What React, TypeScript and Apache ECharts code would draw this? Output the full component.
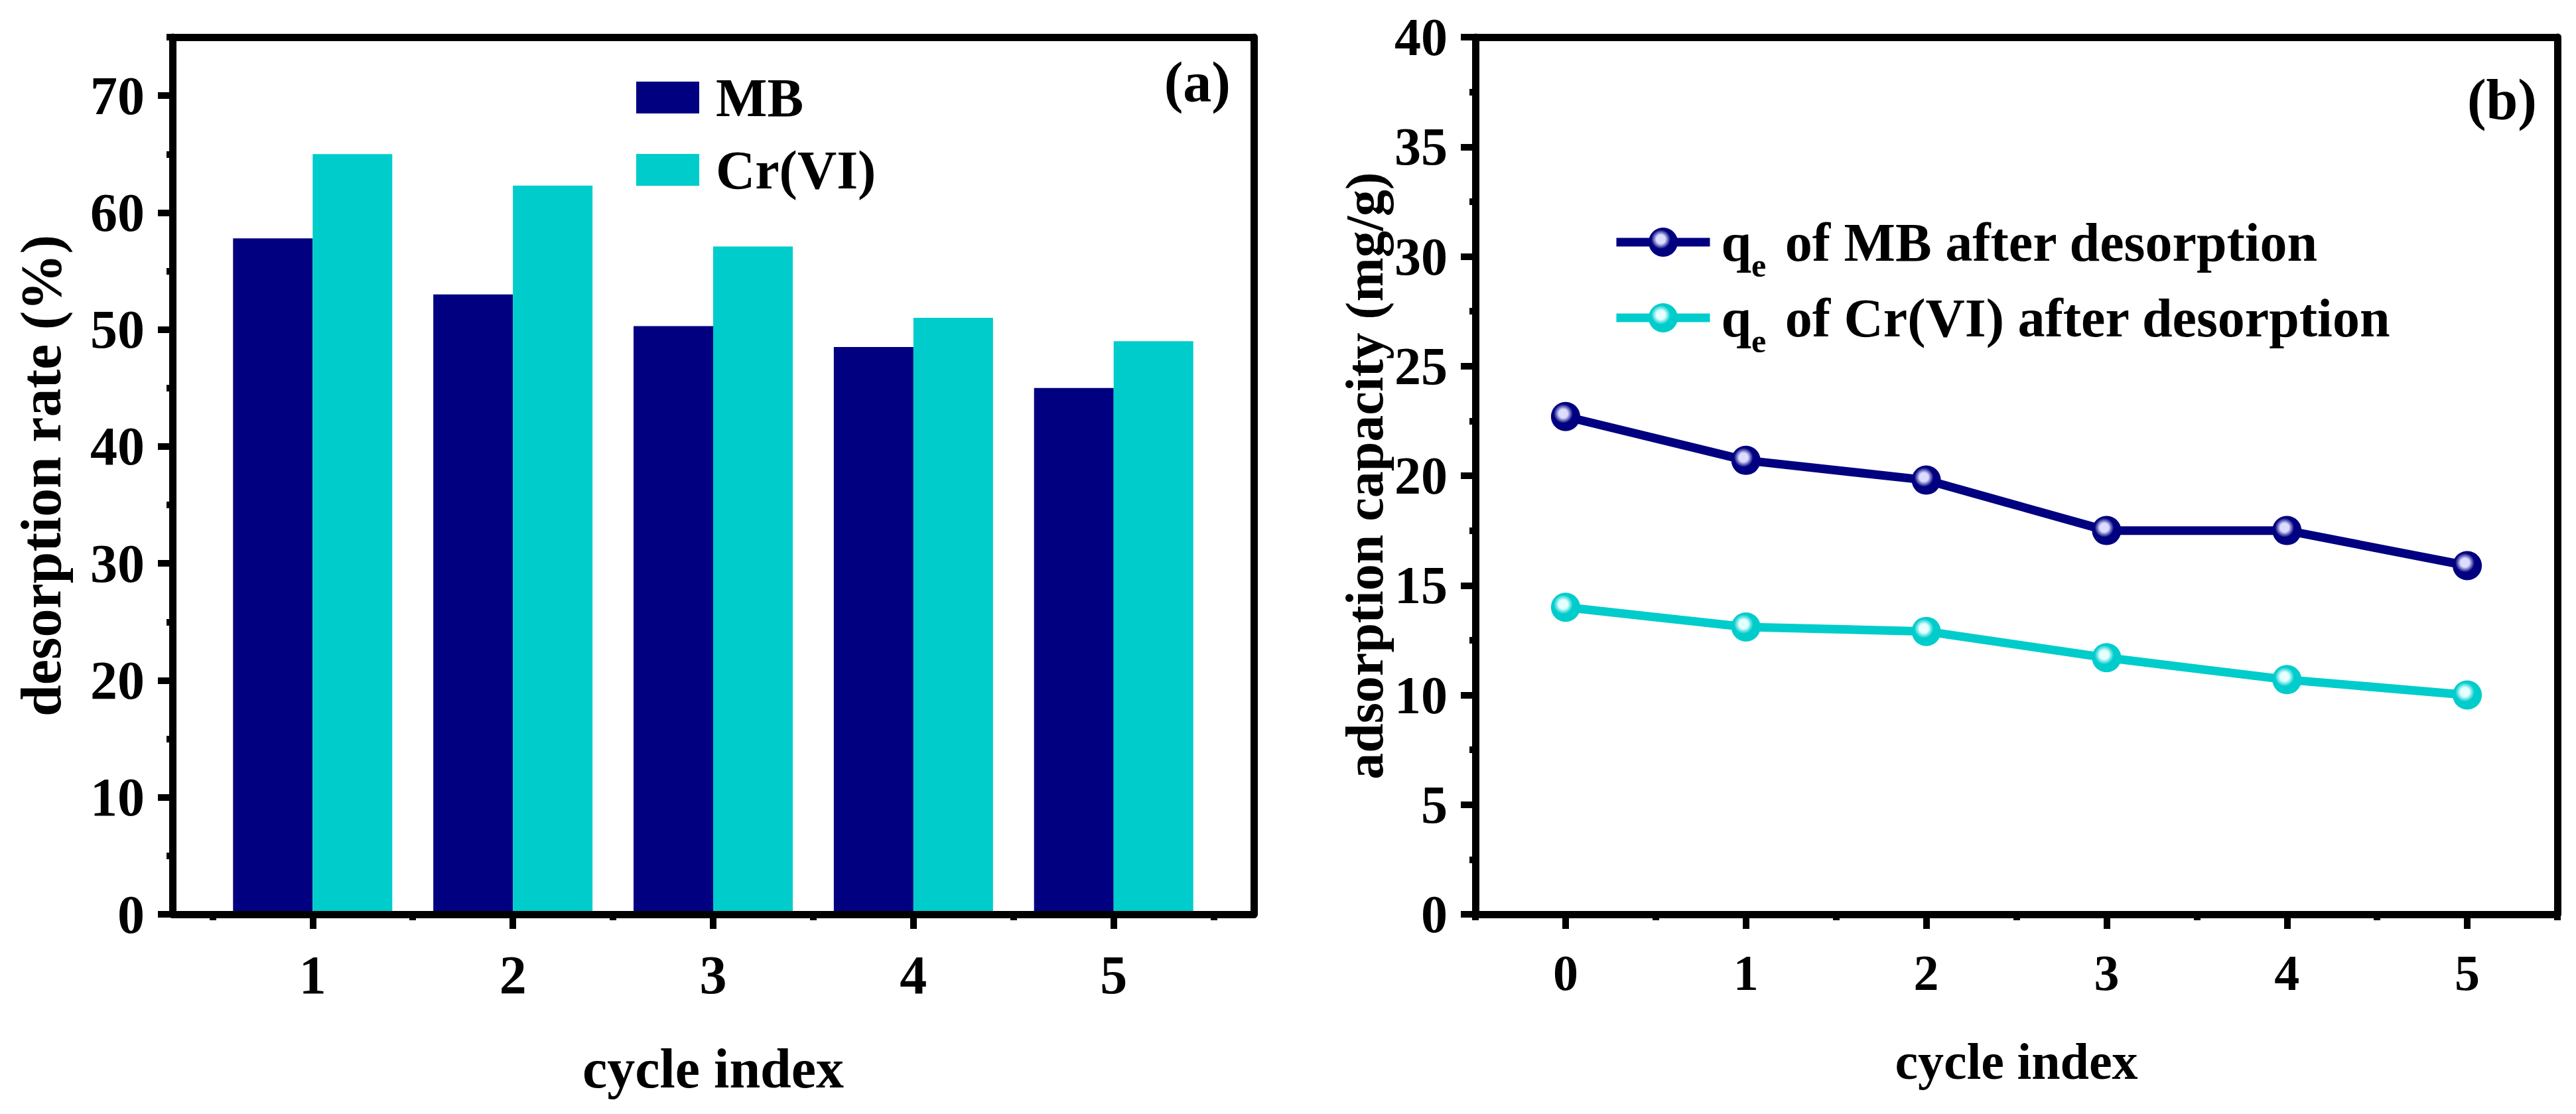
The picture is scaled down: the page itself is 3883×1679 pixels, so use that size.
import React, { useEffect, useRef } from "react";
import * as echarts from "echarts";

// ---- data ----
const cycles = [1, 2, 3, 4, 5];
const mbDesorption = [57.8, 53.0, 50.3, 48.5, 45.0];
const crDesorption = [65.0, 62.3, 57.1, 51.0, 49.0];

const cycleIndex = [0, 1, 2, 3, 4, 5];
const mbCapacity = [22.7, 20.7, 19.8, 17.5, 17.5, 15.9];
const crCapacity = [14.0, 13.1, 12.9, 11.7, 10.7, 10.0];

const leftYTicks = [0, 10, 20, 30, 40, 50, 60, 70];
const leftYMinor = [5, 15, 25, 35, 45, 55, 65, 75];
const leftXMinor = [0.5, 1.5, 2.5, 3.5, 4.5, 5.5];
const rightXMinor = [-0.5, 0.5, 1.5, 2.5, 3.5, 4.5, 5.5];

const legendBar = ["MB", "Cr(VI)"];
const legendLine = ["q_e of MB after desorption", "q_e of Cr(VI) after desorption"];

const FONT = "'Liberation Serif', 'Times New Roman', serif";
const NAVY = "#000080";
const CYAN = "#00CCCC";

const baseText = { fontFamily: FONT, fontWeight: "bold" as const, color: "#000" };

function mainX(grid: number, min: number, max: number, ticks: number[], labelSize: number, nameSize: number, nameGap: number) {
  return {
    type: "value",
    gridIndex: grid,
    position: "bottom",
    min,
    max,
    z: 5,
    axisLine: { show: true, onZero: false, lineStyle: { color: "#000", width: 11 } },
    axisTick: { show: true, customValues: ticks, length: 22, lineStyle: { color: "#000", width: 10 } },
    axisLabel: { show: true, customValues: ticks, margin: 50, fontSize: labelSize, ...baseText },
    splitLine: { show: false },
    name: "cycle index",
    nameLocation: "middle",
    nameGap,
    nameTextStyle: { fontSize: nameSize, ...baseText },
  };
}
function minorX(grid: number, min: number, max: number, ticks: number[]) {
  return {
    type: "value",
    gridIndex: grid,
    position: "bottom",
    min,
    max,
    z: 5,
    axisLine: { show: false, onZero: false },
    axisTick: { show: true, customValues: ticks, length: 9, lineStyle: { color: "#000", width: 10 } },
    axisLabel: { show: false },
    splitLine: { show: false },
  };
}
function frameX(grid: number, min: number, max: number) {
  return {
    type: "value",
    gridIndex: grid,
    position: "top",
    min,
    max,
    z: 5,
    axisLine: { show: true, onZero: false, lineStyle: { color: "#000", width: 11 } },
    axisTick: { show: false },
    axisLabel: { show: false },
    splitLine: { show: false },
  };
}

const highlight = (c: string, light: string) =>
  new echarts.graphic.RadialGradient(0.42, 0.4, 0.6, [
    { offset: 0, color: light },
    { offset: 0.25, color: light },
    { offset: 0.55, color: c },
    { offset: 1, color: c },
  ]);

export default function App() {
  const ref = useRef<HTMLDivElement>(null);
  useEffect(() => {
    if (!ref.current) return;
    const chart = echarts.init(ref.current, undefined, { renderer: "svg" });
    const option: any = {
      animation: false,
      backgroundColor: "#fff",
      grid: [
        { left: 260, top: 56, width: 1630, height: 1322 },
        { left: 2224, top: 56, width: 1631, height: 1322 },
      ],
      xAxis: [
        mainX(0, 0.3, 5.7, cycles, 82, 84, 190),
        minorX(0, 0.3, 5.7, leftXMinor),
        frameX(0, 0.3, 5.7),
        mainX(1, -0.5, 5.5, cycleIndex, 76, 78, 182),
        minorX(1, -0.5, 5.5, rightXMinor),
        frameX(1, -0.5, 5.5),
      ],
      yAxis: [
        {
          type: "value",
          gridIndex: 0,
          position: "left",
          min: 0,
          max: 75,
          z: 5,
          axisLine: { show: true, onZero: false, lineStyle: { color: "#000", width: 11 } },
          axisTick: { show: true, customValues: leftYTicks, length: 22, lineStyle: { color: "#000", width: 10 } },
          axisLabel: { show: true, customValues: leftYTicks, margin: 42, fontSize: 82, ...baseText },
          splitLine: { show: false },
          name: "desorption rate (%)",
          nameLocation: "middle",
          nameGap: 155,
          nameTextStyle: { fontSize: 86, ...baseText },
        },
        {
          type: "value",
          gridIndex: 0,
          position: "left",
          min: 0,
          max: 75,
          z: 5,
          axisLine: { show: false, onZero: false },
          axisTick: { show: true, customValues: leftYMinor, length: 9, lineStyle: { color: "#000", width: 10 } },
          axisLabel: { show: false },
          splitLine: { show: false },
        },
        {
          type: "value",
          gridIndex: 0,
          position: "right",
          min: 0,
          max: 75,
          z: 5,
          axisLine: { show: true, onZero: false, lineStyle: { color: "#000", width: 11 } },
          axisTick: { show: false },
          axisLabel: { show: false },
          splitLine: { show: false },
        },
        {
          type: "value",
          gridIndex: 1,
          position: "left",
          min: 0,
          max: 40,
          interval: 5,
          z: 5,
          axisLine: { show: true, onZero: false, lineStyle: { color: "#000", width: 11 } },
          axisTick: { show: true, length: 22, lineStyle: { color: "#000", width: 10 } },
          minorTick: { show: true, splitNumber: 2, length: 9, lineStyle: { color: "#000", width: 10 } },
          axisLabel: { show: true, margin: 42, fontSize: 80, ...baseText },
          splitLine: { show: false },
          minorSplitLine: { show: false },
          name: "adsorption capacity (mg/g)",
          nameLocation: "middle",
          nameGap: 127,
          nameTextStyle: { fontSize: 80, ...baseText },
        },
        {
          type: "value",
          gridIndex: 1,
          position: "right",
          min: 0,
          max: 40,
          z: 5,
          axisLine: { show: true, onZero: false, lineStyle: { color: "#000", width: 11 } },
          axisTick: { show: false },
          axisLabel: { show: false },
          splitLine: { show: false },
        },
      ],
      legend: [
        {
          data: legendBar,
          orient: "vertical",
          left: 954,
          top: 101,
          itemWidth: 95,
          itemHeight: 48,
          itemGap: 27,
          icon: "rect",
          selectedMode: false,
          textStyle: { fontSize: 82, lineHeight: 80, padding: [0, 0, 0, 20], ...baseText },
        },
        {
          data: legendLine,
          orient: "vertical",
          left: 2425,
          top: 300,
          itemWidth: 141,
          itemHeight: 55,
          itemGap: -6,
          selectedMode: false,
          lineStyle: { width: 13 },
          formatter: (name: string) => name.replace("q_e", "q{sub|e}"),
          textStyle: {
            fontSize: 82,
            lineHeight: 120,
            padding: [0, 0, 0, 12],
            ...baseText,
            rich: {
              sub: {
                fontSize: 50,
                lineHeight: 50,
                padding: [70, 8, 0, 0],
                verticalAlign: "top",
                ...baseText,
              },
            },
          },
        },
      ],
      graphic: [
        {
          type: "text",
          x: 1855,
          y: 124,
          style: { text: "(a)", fill: "#000", font: `bold 86px ${FONT}`, align: "right", verticalAlign: "middle" },
        },
        {
          type: "text",
          x: 3824,
          y: 150,
          style: { text: "(b)", fill: "#000", font: `bold 86px ${FONT}`, align: "right", verticalAlign: "middle" },
        },
      ],
      series: [
        {
          name: legendBar[0],
          type: "bar",
          xAxisIndex: 0,
          yAxisIndex: 0,
          barWidth: 120,
          barGap: "0%",
          itemStyle: { color: NAVY },
          data: cycles.map((c, i) => [c, mbDesorption[i]]),
        },
        {
          name: legendBar[1],
          type: "bar",
          xAxisIndex: 0,
          yAxisIndex: 0,
          barWidth: 120,
          barGap: "0%",
          itemStyle: { color: CYAN },
          data: cycles.map((c, i) => [c, crDesorption[i]]),
        },
        {
          name: legendLine[0],
          type: "line",
          xAxisIndex: 3,
          yAxisIndex: 3,
          symbol: "circle",
          symbolSize: 44,
          lineStyle: { color: NAVY, width: 13 },
          itemStyle: { color: highlight(NAVY, "#dcdcff") },
          data: cycleIndex.map((c, i) => [c, mbCapacity[i]]),
        },
        {
          name: legendLine[1],
          type: "line",
          xAxisIndex: 3,
          yAxisIndex: 3,
          symbol: "circle",
          symbolSize: 44,
          lineStyle: { color: CYAN, width: 13 },
          itemStyle: { color: highlight(CYAN, "#e6ffff") },
          data: cycleIndex.map((c, i) => [c, crCapacity[i]]),
        },
      ],
    };
    chart.setOption(option);
    return () => chart.dispose();
  }, []);
  return (
    <div
      ref={ref}
      style={{ position: "fixed", left: 0, top: 0, width: 3883, height: 1679, background: "#fff" }}
    />
  );
}
